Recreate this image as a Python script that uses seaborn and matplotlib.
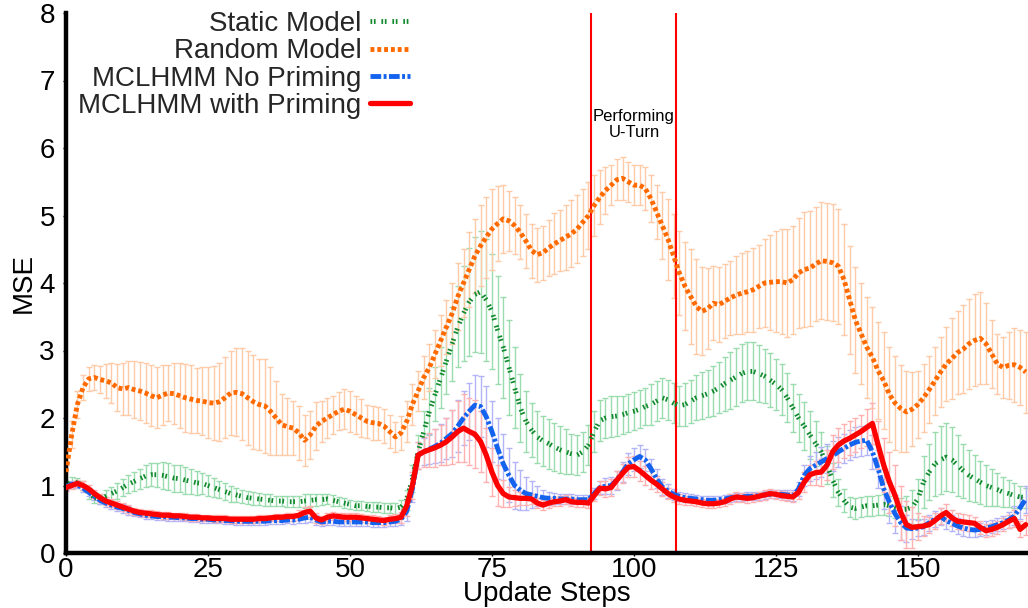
import numpy as np
import matplotlib
matplotlib.use("Agg")
import matplotlib.pyplot as plt
import seaborn as sns

# Update steps 0..169
steps = np.arange(170)

random_mean = [
    1.2, 1.75, 2.2, 2.45, 2.58, 2.6, 2.57, 2.55, 2.52, 2.45,
    2.43, 2.45, 2.42, 2.4, 2.37, 2.33, 2.3, 2.34, 2.37, 2.36,
    2.33, 2.3, 2.28, 2.26, 2.25, 2.23, 2.22, 2.24, 2.3, 2.37,
    2.38, 2.36, 2.3, 2.24, 2.2, 2.18, 2.1, 2.0, 1.9, 1.87,
    1.85, 1.78, 1.67, 1.75, 1.88, 1.95, 2.0, 2.05, 2.1, 2.13,
    2.1, 2.05, 2.0, 1.95, 1.93, 1.92, 1.88, 1.8, 1.72, 1.78,
    1.95, 2.2, 2.4, 2.6, 2.75, 2.95, 3.15, 3.35, 3.55, 3.8,
    4.0, 4.2, 4.4, 4.55, 4.68, 4.8, 4.88, 4.95, 4.92, 4.85,
    4.75, 4.62, 4.48, 4.42, 4.45, 4.52, 4.58, 4.63, 4.68, 4.73,
    4.8, 4.9, 5.0, 5.15, 5.27, 5.37, 5.45, 5.53, 5.55, 5.5,
    5.45, 5.45, 5.4, 5.25, 5.05, 4.85, 4.65, 4.4, 4.15, 3.95,
    3.8, 3.65, 3.58, 3.62, 3.7, 3.68, 3.73, 3.78, 3.82, 3.85,
    3.87, 3.9, 3.95, 4.0, 4.01, 4.02, 4.02, 4.0, 4.05, 4.15,
    4.2, 4.22, 4.28, 4.33, 4.32, 4.3, 4.25, 4.05, 3.75, 3.45,
    3.25, 3.05, 2.9, 2.7, 2.55, 2.35, 2.22, 2.14, 2.09, 2.13,
    2.2, 2.3, 2.42, 2.55, 2.68, 2.8, 2.88, 2.97, 3.02, 3.1,
    3.15, 3.18, 3.1, 2.95, 2.8, 2.75, 2.78, 2.79, 2.75, 2.68,
]
random_err = [
    0.15, 0.2, 0.2, 0.18, 0.18, 0.18, 0.2, 0.25, 0.3, 0.35,
    0.38, 0.4, 0.42, 0.43, 0.45, 0.45, 0.45, 0.45, 0.42, 0.45,
    0.48, 0.5, 0.5, 0.48, 0.5, 0.52, 0.55, 0.58, 0.6, 0.62,
    0.65, 0.68, 0.7, 0.7, 0.68, 0.7, 0.65, 0.55, 0.45, 0.42,
    0.4, 0.4, 0.38, 0.35, 0.35, 0.3, 0.3, 0.28, 0.28, 0.3,
    0.3, 0.28, 0.28, 0.25, 0.25, 0.25, 0.25, 0.25, 0.22, 0.25,
    0.3, 0.3, 0.3, 0.32, 0.35, 0.35, 0.38, 0.4, 0.45, 0.5,
    0.5, 0.55, 0.55, 0.6, 0.6, 0.6, 0.55, 0.5, 0.45, 0.42,
    0.4, 0.4, 0.4, 0.4, 0.4, 0.42, 0.45, 0.45, 0.48, 0.5,
    0.5, 0.5, 0.5, 0.45, 0.4, 0.35, 0.3, 0.3, 0.32, 0.3,
    0.3, 0.3, 0.32, 0.35, 0.4, 0.5, 0.6, 0.62, 0.62, 0.65,
    0.7, 0.7, 0.65, 0.6, 0.55, 0.55, 0.55, 0.55, 0.58, 0.6,
    0.6, 0.62, 0.62, 0.65, 0.7, 0.75, 0.78, 0.8, 0.8, 0.82,
    0.85, 0.85, 0.85, 0.87, 0.87, 0.87, 0.85, 0.82, 0.8, 0.78,
    0.75, 0.75, 0.75, 0.72, 0.72, 0.7, 0.7, 0.65, 0.6, 0.55,
    0.5, 0.5, 0.5, 0.5, 0.52, 0.55, 0.6, 0.62, 0.65, 0.67,
    0.68, 0.68, 0.6, 0.5, 0.45, 0.45, 0.5, 0.55, 0.55, 0.6,
]

static_mean = [
    1.0, 1.06, 1.04, 1.0, 0.88, 0.82, 0.8, 0.84, 0.88, 0.92,
    0.97, 1.02, 1.06, 1.1, 1.14, 1.16, 1.16, 1.15, 1.13, 1.11,
    1.1, 1.08, 1.06, 1.04, 1.03, 1.0, 0.97, 0.94, 0.91, 0.88,
    0.86, 0.84, 0.82, 0.81, 0.8, 0.79, 0.78, 0.77, 0.77, 0.76,
    0.76, 0.76, 0.77, 0.78, 0.79, 0.79, 0.8, 0.78, 0.76, 0.74,
    0.72, 0.7, 0.7, 0.69, 0.68, 0.68, 0.67, 0.67, 0.66, 0.68,
    0.79, 1.1, 1.5, 1.8, 2.1, 2.35, 2.6, 2.85, 3.1, 3.35,
    3.55, 3.72, 3.83, 3.87, 3.75, 3.58, 3.3, 3.05, 2.75, 2.45,
    2.15, 1.95, 1.82, 1.72, 1.66, 1.62, 1.57, 1.53, 1.5, 1.47,
    1.45, 1.5, 1.6, 1.8, 1.96, 2.0, 2.02, 2.03, 2.05, 2.08,
    2.1, 2.13, 2.17, 2.2, 2.25, 2.3, 2.27, 2.22, 2.18, 2.2,
    2.25, 2.3, 2.33, 2.36, 2.4, 2.45, 2.51, 2.56, 2.61, 2.66,
    2.69, 2.69, 2.66, 2.62, 2.56, 2.5, 2.42, 2.3, 2.15, 2.0,
    1.88, 1.75, 1.62, 1.5, 1.3, 1.08, 0.9, 0.78, 0.68, 0.66,
    0.68, 0.7, 0.7, 0.71, 0.72, 0.7, 0.67, 0.64, 0.65, 0.68,
    0.8, 1.05, 1.2, 1.32, 1.38, 1.42, 1.38, 1.3, 1.22, 1.15,
    1.1, 1.05, 1.0, 0.97, 0.94, 0.9, 0.88, 0.85, 0.83, 0.82,
]
static_err = [
    0.05, 0.06, 0.07, 0.07, 0.08, 0.08, 0.08, 0.1, 0.1, 0.12,
    0.12, 0.13, 0.14, 0.15, 0.16, 0.17, 0.18, 0.2, 0.2, 0.2,
    0.2, 0.2, 0.18, 0.18, 0.16, 0.15, 0.14, 0.13, 0.12, 0.12,
    0.11, 0.1, 0.1, 0.1, 0.09, 0.09, 0.09, 0.08, 0.08, 0.08,
    0.08, 0.08, 0.1, 0.1, 0.09, 0.08, 0.08, 0.08, 0.07, 0.07,
    0.07, 0.07, 0.07, 0.07, 0.07, 0.07, 0.07, 0.07, 0.08, 0.1,
    0.15, 0.2, 0.25, 0.3, 0.35, 0.4, 0.45, 0.5, 0.55, 0.6,
    0.7, 0.8, 0.85, 0.9, 0.9, 0.85, 0.8, 0.75, 0.7, 0.6,
    0.5, 0.45, 0.4, 0.38, 0.37, 0.37, 0.36, 0.35, 0.33, 0.3,
    0.3, 0.3, 0.3, 0.3, 0.3, 0.3, 0.3, 0.3, 0.28, 0.28,
    0.28, 0.28, 0.28, 0.3, 0.3, 0.3, 0.3, 0.3, 0.3, 0.32,
    0.32, 0.33, 0.35, 0.35, 0.37, 0.38, 0.4, 0.42, 0.43, 0.43,
    0.43, 0.43, 0.42, 0.4, 0.4, 0.38, 0.38, 0.36, 0.35, 0.35,
    0.35, 0.35, 0.33, 0.3, 0.28, 0.25, 0.2, 0.17, 0.15, 0.15,
    0.15, 0.15, 0.15, 0.15, 0.15, 0.15, 0.15, 0.18, 0.2, 0.25,
    0.3, 0.38, 0.42, 0.48, 0.5, 0.5, 0.48, 0.45, 0.4, 0.38,
    0.35, 0.32, 0.3, 0.28, 0.25, 0.22, 0.2, 0.18, 0.16, 0.15,
]

nopriming_mean = [
    0.98, 1.02, 1.01, 0.96, 0.9, 0.84, 0.78, 0.74, 0.71, 0.68,
    0.66, 0.63, 0.6, 0.58, 0.56, 0.55, 0.54, 0.54, 0.53, 0.53,
    0.52, 0.52, 0.51, 0.51, 0.5, 0.5, 0.49, 0.49, 0.48, 0.48,
    0.47, 0.47, 0.47, 0.47, 0.47, 0.47, 0.48, 0.48, 0.48, 0.49,
    0.49, 0.5, 0.52, 0.53, 0.49, 0.46, 0.47, 0.47, 0.46, 0.46,
    0.46, 0.46, 0.46, 0.46, 0.45, 0.45, 0.45, 0.46, 0.47, 0.5,
    0.62, 0.95, 1.45, 1.5, 1.54, 1.58, 1.63, 1.7, 1.77, 1.88,
    2.0, 2.1, 2.19, 2.17, 2.02, 1.8, 1.55, 1.32, 1.15, 1.0,
    0.93, 0.88, 0.86, 0.84, 0.82, 0.81, 0.81, 0.8, 0.8, 0.8,
    0.79, 0.79, 0.79, 0.88, 0.97, 0.99, 1.0, 1.08, 1.2, 1.32,
    1.38, 1.43, 1.38, 1.25, 1.1, 0.98, 0.92, 0.87, 0.84, 0.82,
    0.81, 0.8, 0.79, 0.78, 0.78, 0.79, 0.8, 0.82, 0.83, 0.83,
    0.84, 0.84, 0.85, 0.86, 0.87, 0.87, 0.87, 0.86, 0.85, 0.95,
    1.15, 1.25, 1.3, 1.35, 1.4, 1.44, 1.5, 1.55, 1.6, 1.64,
    1.66, 1.67, 1.5, 1.25, 0.95, 0.75, 0.58, 0.45, 0.37, 0.36,
    0.37, 0.39, 0.45, 0.5, 0.54, 0.48, 0.44, 0.4, 0.37, 0.35,
    0.34, 0.35, 0.37, 0.39, 0.42, 0.45, 0.49, 0.55, 0.67, 0.8,
]
nopriming_err = [
    0.05, 0.05, 0.05, 0.06, 0.06, 0.06, 0.06, 0.06, 0.06, 0.06,
    0.06, 0.06, 0.05, 0.05, 0.05, 0.05, 0.05, 0.05, 0.05, 0.05,
    0.05, 0.05, 0.05, 0.05, 0.05, 0.05, 0.05, 0.05, 0.05, 0.05,
    0.05, 0.05, 0.05, 0.05, 0.05, 0.05, 0.05, 0.05, 0.05, 0.05,
    0.06, 0.06, 0.07, 0.07, 0.07, 0.06, 0.06, 0.06, 0.06, 0.06,
    0.06, 0.06, 0.06, 0.06, 0.06, 0.06, 0.06, 0.06, 0.07, 0.08,
    0.15, 0.2, 0.2, 0.2, 0.22, 0.25, 0.28, 0.3, 0.35, 0.38,
    0.4, 0.42, 0.45, 0.45, 0.45, 0.45, 0.45, 0.45, 0.4, 0.35,
    0.3, 0.25, 0.2, 0.15, 0.12, 0.1, 0.08, 0.08, 0.07, 0.07,
    0.07, 0.07, 0.07, 0.08, 0.1, 0.12, 0.12, 0.14, 0.15, 0.16,
    0.17, 0.17, 0.16, 0.15, 0.14, 0.12, 0.1, 0.08, 0.07, 0.07,
    0.06, 0.06, 0.06, 0.06, 0.06, 0.06, 0.06, 0.06, 0.06, 0.06,
    0.06, 0.06, 0.06, 0.06, 0.06, 0.06, 0.06, 0.07, 0.08, 0.1,
    0.15, 0.18, 0.2, 0.22, 0.22, 0.22, 0.22, 0.22, 0.22, 0.22,
    0.22, 0.22, 0.25, 0.28, 0.3, 0.3, 0.28, 0.25, 0.2, 0.15,
    0.12, 0.12, 0.12, 0.12, 0.12, 0.12, 0.12, 0.12, 0.12, 0.12,
    0.1, 0.1, 0.1, 0.1, 0.1, 0.1, 0.12, 0.14, 0.16, 0.2,
]

priming_mean = [
    0.97, 1.0, 1.03, 1.0, 0.95, 0.88, 0.82, 0.77, 0.74, 0.71,
    0.68, 0.65, 0.62, 0.6, 0.59, 0.58, 0.57, 0.56, 0.56, 0.55,
    0.55, 0.54, 0.53, 0.53, 0.52, 0.52, 0.51, 0.51, 0.51, 0.5,
    0.5, 0.5, 0.5, 0.5, 0.51, 0.51, 0.52, 0.53, 0.53, 0.54,
    0.54, 0.56, 0.6, 0.62, 0.52, 0.49, 0.53, 0.55, 0.54, 0.53,
    0.53, 0.53, 0.52, 0.51, 0.5, 0.49, 0.48, 0.5, 0.51, 0.53,
    0.7, 1.0, 1.45, 1.5, 1.53, 1.56, 1.6, 1.65, 1.72, 1.8,
    1.85, 1.8, 1.76, 1.65, 1.45, 1.2, 1.0, 0.88, 0.83, 0.82,
    0.81, 0.81, 0.8, 0.74, 0.71, 0.74, 0.76, 0.77, 0.79, 0.76,
    0.75, 0.75, 0.74, 0.85, 0.96, 0.95, 0.97, 1.08, 1.18, 1.27,
    1.28, 1.22, 1.15, 1.08, 1.02, 0.95, 0.88, 0.83, 0.8, 0.78,
    0.77, 0.76, 0.74, 0.73, 0.73, 0.74, 0.76, 0.8, 0.83, 0.82,
    0.81, 0.82, 0.84, 0.86, 0.88, 0.87, 0.85, 0.84, 0.83, 0.9,
    1.05, 1.16, 1.19, 1.2, 1.3, 1.5, 1.6, 1.66, 1.7, 1.75,
    1.8, 1.86, 1.92, 1.6, 1.3, 1.05, 0.85, 0.6, 0.42, 0.38,
    0.39, 0.4, 0.42, 0.48, 0.55, 0.6, 0.52, 0.47, 0.46, 0.45,
    0.44, 0.38, 0.33, 0.35, 0.38, 0.42, 0.47, 0.51, 0.35, 0.42,
]
priming_err = [
    0.05, 0.05, 0.05, 0.06, 0.06, 0.06, 0.06, 0.06, 0.06, 0.06,
    0.06, 0.06, 0.05, 0.05, 0.05, 0.05, 0.05, 0.05, 0.05, 0.05,
    0.05, 0.05, 0.05, 0.05, 0.05, 0.05, 0.05, 0.05, 0.05, 0.05,
    0.05, 0.05, 0.05, 0.05, 0.05, 0.05, 0.05, 0.05, 0.05, 0.06,
    0.06, 0.07, 0.08, 0.08, 0.07, 0.06, 0.06, 0.06, 0.06, 0.06,
    0.06, 0.06, 0.06, 0.06, 0.06, 0.06, 0.06, 0.06, 0.07, 0.08,
    0.15, 0.2, 0.2, 0.22, 0.25, 0.28, 0.3, 0.35, 0.4, 0.45,
    0.5, 0.5, 0.5, 0.45, 0.4, 0.35, 0.3, 0.2, 0.15, 0.12,
    0.1, 0.1, 0.08, 0.08, 0.07, 0.07, 0.07, 0.07, 0.07, 0.07,
    0.07, 0.07, 0.07, 0.08, 0.1, 0.12, 0.12, 0.13, 0.14, 0.15,
    0.15, 0.15, 0.14, 0.13, 0.12, 0.1, 0.08, 0.07, 0.07, 0.07,
    0.06, 0.06, 0.06, 0.06, 0.06, 0.06, 0.06, 0.07, 0.07, 0.07,
    0.07, 0.07, 0.07, 0.07, 0.07, 0.07, 0.07, 0.07, 0.08, 0.1,
    0.15, 0.15, 0.18, 0.2, 0.22, 0.25, 0.25, 0.25, 0.25, 0.25,
    0.25, 0.28, 0.3, 0.35, 0.4, 0.45, 0.45, 0.4, 0.35, 0.3,
    0.2, 0.15, 0.12, 0.12, 0.12, 0.12, 0.12, 0.12, 0.12, 0.12,
    0.1, 0.1, 0.1, 0.1, 0.1, 0.1, 0.1, 0.12, 0.12, 0.15,
]

uturn_start, uturn_end = 92.5, 107.5
x_ticks = [0, 25, 50, 75, 100, 125, 150]

sns.set_style("ticks")
plt.rcParams['font.family'] = ['Liberation Sans', 'DejaVu Sans']

fig = plt.figure(figsize=(10.28, 6.08), dpi=100)
ax = fig.add_axes([66 / 1028, 55 / 608, 962 / 1028, 540 / 608])

# name, mean, err, line colour, bar colour, linewidth, dashes
series = [
    ("Static Model", static_mean, static_err, "#118a2e", "#9adcae", 3.5, (0.35, 0.35, 0.35, 1.2)),
    ("Random Model", random_mean, random_err, "#ff6a00", "#ffcba6", 3.5, (0.8, 0.6)),
    ("MCLHMM No Priming", nopriming_mean, nopriming_err, "#1463ef", "#b3b3f7", 3.5, (2.2, 0.5, 0.6, 0.5)),
    ("MCLHMM with Priming", priming_mean, priming_err, "#ff0000", "#ffb0b0", 3.8, None),
]

# error bars first, lighter, behind the lines
for name, mean, err, lc, bc, lw, dash in series:
    ax.errorbar(steps, mean, yerr=err, fmt='none', ecolor=bc, elinewidth=1.0,
                capsize=2.5, capthick=1.0, zorder=1)

handles = []
for name, mean, err, lc, bc, lw, dash in series:
    sns.lineplot(x=steps, y=mean, ax=ax, color=lc, linewidth=lw, zorder=3)
    line = ax.lines[-1]
    if dash is not None:
        line.set_dashes(dash)
    line.set_label(name)
    handles.append(line)

ax.axvline(uturn_start, color="#ff0000", linewidth=1.5, zorder=2)
ax.axvline(uturn_end, color="#ff0000", linewidth=1.5, zorder=2)
ax.text((uturn_start + uturn_end) / 2, 6.35, "Performing\nU-Turn", ha="center",
        va="center", fontsize=12, color="black", linespacing=1.05)

ax.set_xlim(0, 169.4)
ax.set_ylim(0, 8)
ax.set_xticks(x_ticks)
ax.set_yticks(range(0, 9))
ax.tick_params(axis="both", labelsize=20, length=2, width=1, colors="black")
ax.tick_params(axis="x", pad=1)
ax.tick_params(axis="y", pad=6)
ax.set_xlabel("Update Steps", fontsize=20, labelpad=-1.5, color="black")
ax.set_ylabel("MSE", fontsize=20, labelpad=2, color="black")

sns.despine(ax=ax)
for side in ("left", "bottom"):
    ax.spines[side].set_linewidth(3.2)
    ax.spines[side].set_color("black")

ax.legend(handles=handles, loc="upper right", bbox_to_anchor=(410 / 1028, 1 - 11 / 608),
          bbox_transform=fig.transFigure, frameon=False, markerfirst=False,
          fontsize=20, handlelength=1.45, handletextpad=0.3, labelspacing=0.05,
          borderpad=0, borderaxespad=0)

fig.savefig("out.png", dpi=100)
